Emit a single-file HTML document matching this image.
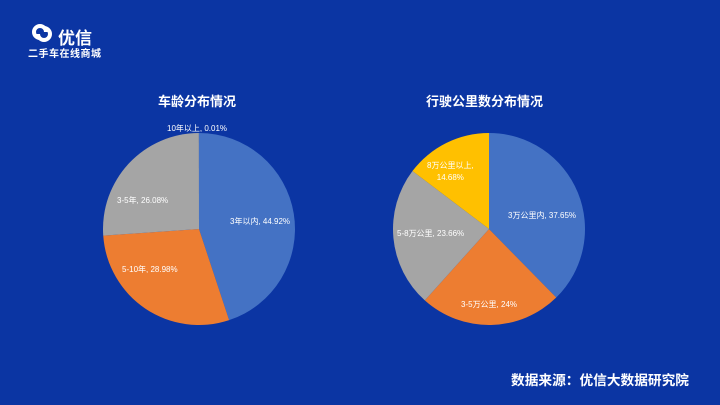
<!DOCTYPE html>
<html><head><meta charset="utf-8"><style>
html,body{margin:0;padding:0}
body{width:720px;height:405px;background:#0b35a3;overflow:hidden;position:relative;font-family:"Liberation Sans","Noto Sans CJK SC",sans-serif;color:#fff}
.t{position:absolute;white-space:nowrap}
</style></head><body>
<svg width="720" height="405" style="position:absolute;left:0;top:0">
<g>
<path d="M199,229 L199,133 A96,96 0 0 1 229.12,320.15 Z" fill="#4472c4"/>
<path d="M199,229 L229.12,320.15 A96,96 0 0 1 103.23,235.63 Z" fill="#ed7d31"/>
<path d="M199,229 L103.23,235.63 A96,96 0 0 1 198.88,133 Z" fill="#a5a5a5"/>
<path d="M489,229 L489,133 A96,96 0 0 1 556.25,297.51 Z" fill="#4472c4"/>
<path d="M489,229 L556.25,297.51 A96,96 0 0 1 424.82,300.4 Z" fill="#ed7d31"/>
<path d="M489,229 L424.82,300.4 A96,96 0 0 1 412.46,171.05 Z" fill="#a5a5a5"/>
<path d="M489,229 L412.46,171.05 A96,96 0 0 1 489,133 Z" fill="#ffc000"/>
</g>
<g fill="none" stroke="#fff" stroke-width="4">
<path d="M40,38 a6,6 0 1 1 6,-6"/><path d="M44,28 a6,6 0 1 1 -6,6"/>
</g>
</svg>
<div class="t" style="left:58px;top:24px;font-size:17px;font-weight:bold">优信</div>
<div class="t" style="left:28px;top:45px;font-size:10px;font-weight:bold;letter-spacing:0.5px">二手车在线商城</div>
<div class="t" style="left:158px;top:91px;font-size:13px;font-weight:bold">车龄分布情况</div>
<div class="t" style="left:426px;top:91px;font-size:13px;font-weight:bold">行驶公里数分布情况</div>
<div class="t" style="left:167px;top:123px;font-size:8px">10年以上, 0.01%</div>
<div class="t" style="left:117px;top:195px;font-size:8px">3-5年, 26.08%</div>
<div class="t" style="left:230px;top:216px;font-size:8px">3年以内, 44.92%</div>
<div class="t" style="left:122px;top:264px;font-size:8px">5-10年, 28.98%</div>
<div class="t" style="left:427px;top:160px;font-size:8px;text-align:center;line-height:12px">8万公里以上,<br>14.68%</div>
<div class="t" style="left:508px;top:210px;font-size:8px">3万公里内, 37.65%</div>
<div class="t" style="left:397px;top:228px;font-size:8px">5-8万公里, 23.66%</div>
<div class="t" style="left:461px;top:299px;font-size:8px">3-5万公里, 24%</div>
<div class="t" style="left:511px;top:369px;font-size:13.7px;font-weight:bold">数据来源：优信大数据研究院</div>
</body></html>
